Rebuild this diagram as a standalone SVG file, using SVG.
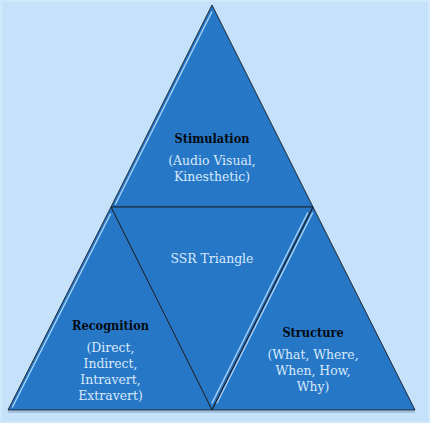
<svg xmlns="http://www.w3.org/2000/svg" width="430" height="423" viewBox="0 0 430 423">
  <style>
    .tri { fill: #2777C7; stroke: #1E2733; stroke-width: 1; stroke-linejoin: miter; }
    .hl { stroke: #A6D2F7; stroke-width: 1.4; fill: none; stroke-linecap: round; }
    .edge { stroke: #1E2733; stroke-width: 1; fill: none; }
    .head { font-family: "DejaVu Serif Condensed", "DejaVu Serif", serif; font-stretch: condensed; font-weight: bold; font-size: 12.6px; fill: #050A10; text-anchor: middle; }
    .sub { font-family: "DejaVu Serif Condensed", "DejaVu Serif", serif; font-stretch: condensed; font-size: 13.8px; fill: #D8E9FA; text-anchor: middle; }
  </style>
  <rect x="0" y="0" width="430" height="423" fill="#C6E2FA"/>
  <rect x="1" y="1" width="428" height="421" fill="none" stroke="#D0E8FC" stroke-width="2"/>

  <g id="node-stimulation">
    <polygon class="tri" points="212,5 313,207 111,207"/>
    <line class="hl" x1="211.8" y1="12" x2="115.5" y2="204"/>
    <text class="head" x="212" y="143">Stimulation</text>
    <text class="sub" x="212" y="165">(Audio Visual,</text>
    <text class="sub" x="212" y="181">Kinesthetic)</text>
  </g>

  <g id="node-ssr">
    <polygon class="tri" points="111,207 313,207 212,410"/>
    <text class="sub" x="212" y="263">SSR Triangle</text>
  </g>

  <g id="node-recognition">
    <polygon class="tri" points="111,207 212,410 8,410"/>
    <line class="hl" x1="110.5" y1="214" x2="12.5" y2="407"/>
    <text class="head" x="110.5" y="330">Recognition</text>
    <text class="sub" x="110.5" y="352">(Direct,</text>
    <text class="sub" x="110.5" y="368">Indirect,</text>
    <text class="sub" x="110.5" y="384">Intravert,</text>
    <text class="sub" x="110.5" y="400">Extravert)</text>
  </g>

  <g id="node-structure">
    <polygon class="tri" points="313,207 415,410 212,410"/>
    <line class="hl" x1="312.5" y1="213" x2="217" y2="403"/>
    <line class="hl" x1="307.5" y1="213" x2="212" y2="403"/>
    <line class="edge" x1="313" y1="207" x2="212" y2="410"/>
    <text class="head" x="313" y="337">Structure</text>
    <text class="sub" x="313" y="359">(What, Where,</text>
    <text class="sub" x="313" y="375">When, How,</text>
    <text class="sub" x="313" y="391">Why)</text>
  </g>

  <g id="connectors">
    <line x1="8" y1="412" x2="415" y2="412" stroke="#7FA3C6" stroke-width="1"/>
  </g>
</svg>
